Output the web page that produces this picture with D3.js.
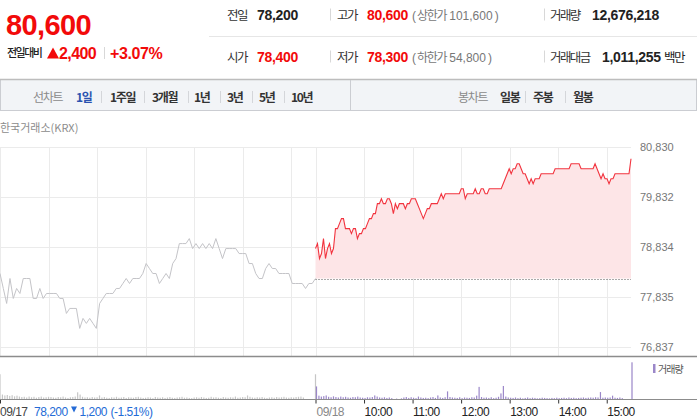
<!DOCTYPE html>
<html>
<head>
<meta charset="utf-8">
<script src="https://cdn.jsdelivr.net/npm/d3@7"></script>
<style>
  body { margin: 0; background: #fff; }
  svg { display: block; font-family: "Liberation Sans", "Noto Sans CJK KR", sans-serif; }
  .kr { font-family: "Noto Sans CJK KR", sans-serif; }
</style>
</head>
<body>
<div id="chart"></div>
<script>
// ---- data ----
var currentPrice = "80,600";
var dayChange = ["2,400", "+3.07%"];
var infoLabels = ["전일", "고가", "거래량", "시가", "저가", "거래대금"];
var infoValues = ["78,200", "80,600", "12,676,218", "78,400", "78,300", "1,011,255"];
var limitLabels = ["상한가", "하한가"];
var limitValues = ["101,600", "54,800"];
var lineTabs = ["1일", "1주일", "3개월", "1년", "3년", "5년", "10년"];
var candleTabs = ["일봉", "주봉", "월봉"];

var prevClose = 78200;
var priceTicks = [80830, 79832, 78834, 77835, 76837];
var dayLabels = ["09/17", "09/18"];
var hourLabels = ["10:00", "11:00", "12:00", "13:00", "14:00", "15:00"];
var prevSummary = ["78,200", "1,200", "(-1.51%)"];

// 09/17 price, 09:00 -> 15:30
var prevPrices = [
  78300, 78000, 77700, 78200, 77800, 78000, 77900, 78200, 78200, 78200,
  77800, 77800, 78000, 77800, 77900, 77900, 77900, 77900, 77800, 77800,
  77500, 77600, 77600, 77600, 77200, 77400, 77300, 77400, 77300, 77200,
  77700, 77800, 77900, 77900, 77900, 78000, 78000, 78100, 78200, 78100,
  78200, 78200, 78200, 78300, 78500, 78400, 78300, 78300, 78100, 78200,
  78300, 78200, 78500, 78600, 78900, 78900, 78900, 79000, 78800, 78900,
  78800, 78900, 78800, 78900, 78800, 79000, 78800, 78600, 78800, 78800,
  78800, 78800, 78700, 78700, 78700, 78500, 78500, 78300, 78200, 78200,
  78400, 78500, 78400, 78400, 78300, 78300, 78300, 78300, 78100, 78100,
  78100, 78100, 78000, 78100, 78100, 78200
];

// 09/18 price, 09:00 -> 15:30
var todayPrices = [
  78800, 78900, 78600, 78700, 79000, 78600, 78800, 78900, 78700, 78800,
  79200, 79200, 79300, 79400, 79400, 79200,
  79200, 79200, 79100, 79200, 79200, 79000, 79100, 79100, 79200, 79200,
  79300, 79400, 79400, 79500, 79500, 79700, 79700, 79800, 79700, 79700,
  79800, 79800, 79700, 79500, 79700, 79600, 79700, 79700, 79700, 79600,
  79700, 79700, 79800, 79800, 79800, 79700, 79600, 79500, 79400, 79500,
  79600, 79600, 79700, 79700, 79700, 79700, 79800, 79900, 79800, 79900,
  79900, 79900, 79900, 79900, 79900, 79900, 79900, 80000, 80000, 79800,
  79900, 79900, 79900, 79900, 80000, 79900, 79900, 80000, 80000, 79900,
  79900, 80000, 80000, 80000, 80000, 80000, 80000, 80000, 80100, 80200,
  80300, 80400, 80300, 80400, 80400, 80500, 80500, 80400, 80300, 80300,
  80200, 80100, 80200, 80100, 80200, 80200, 80200, 80300, 80300, 80300,
  80300, 80300, 80300, 80300, 80400, 80400, 80400, 80400, 80400, 80400,
  80400, 80400, 80500, 80500, 80500, 80500, 80500, 80400, 80400, 80400,
  80400, 80400, 80400, 80400, 80500, 80400, 80300, 80200, 80300, 80200,
  80200, 80100, 80200, 80200, 80300, 80300, 80300, 80300, 80300, 80300,
  80300, 80300, 80600
];

// volume (thousand shares), one bar per 3 minutes, 09:00 -> 15:30
var prevVolumes = [
  1120, 220, 180, 200, 160, 190, 140, 170, 130, 110,
  120, 90, 130, 100, 120, 80, 110, 130, 90, 100,
  120, 110, 90, 80, 110, 100, 130, 90, 70, 100,
  110, 130, 320, 220, 120, 90, 100, 80, 110, 90,
  100, 180, 90, 110, 80, 70, 100, 90, 120, 80,
  90, 110, 70, 100, 90, 80, 110, 120, 90, 70,
  80, 100, 90, 60, 110, 90, 80, 100, 70, 90,
  110, 80, 70, 90, 100, 120, 80, 90, 70, 60,
  90, 100, 80, 110, 90, 70, 80, 120, 90, 100,
  80, 70, 110, 90, 80, 100, 90, 130, 80, 90,
  110, 100, 180, 120, 90, 80, 100, 90, 110, 80,
  70, 90, 100, 80, 110, 90, 100, 120, 90, 80,
  100, 90, 110, 120, 130, 90, 0, 0, 0, 0,
  1120
];
var todayVolumes = [
  580, 170, 130, 150, 180, 120, 100, 140, 110, 90,
  130, 100, 120, 90, 80, 110, 100, 130, 90, 80,
  70, 100, 90, 110, 180, 130, 90, 80, 100, 70,
  90, 60, 0, 40, 0, 50, 90, 110, 70, 100,
  80, 60, 130, 90, 70, 80, 60, 90, 110, 70,
  180, 90, 70, 100, 360, 110, 90, 80, 70, 100,
  60, 90, 80, 70, 100, 90, 170, 560, 110, 80,
  90, 70, 100, 60, 80, 120, 270, 600, 130, 90,
  80, 70, 90, 60, 80, 50, 70, 90, 60, 80,
  70, 50, 60, 80, 70, 60, 50, 70, 60, 80,
  60, 70, 80, 60, 90, 70, 80, 60, 70, 80,
  90, 70, 80, 90, 80, 100, 90, 330, 80, 90,
  80, 90, 170, 80, 70, 90, 60, 0, 0, 0,
  1650
];

// ---- layout ----
var W = 697, H = 420;
var RED = "#f20a0a", BLUE = "#246bd6";
var plotRight = 631, plotTop = 147.3, plotBottom = 346.5;
var panelLine = 356.5, volBase = 399.5;
var SESSION = 390; // minutes per session

var svg = d3.select("#chart").append("svg")
    .attr("width", W)
    .attr("height", H);

// header - big price
svg.append("text")
    .attr("x", 6).attr("y", 35)
    .attr("font-size", 29).attr("font-weight", "bold")
    .attr("letter-spacing", -0.6)
    .attr("fill", RED)
    .text(currentPrice);

svg.append("text")
    .attr("class", "kr")
    .attr("x", 7).attr("y", 57)
    .attr("font-size", 11).attr("font-weight", 500).attr("letter-spacing", -1.5)
    .attr("fill", "#222")
    .text("전일대비");

var tri = d3.path();
tri.moveTo(47, 58.5); tri.lineTo(53, 47.5); tri.lineTo(59, 58.5); tri.closePath();
svg.append("path").attr("d", tri.toString()).attr("fill", RED);

svg.append("text")
    .attr("x", 59).attr("y", 58.5)
    .attr("font-size", 16).attr("font-weight", "bold").attr("letter-spacing", -0.6)
    .attr("fill", RED)
    .text(dayChange[0]);
svg.append("line")
    .attr("x1", 104.5).attr("x2", 104.5).attr("y1", 47).attr("y2", 59)
    .attr("stroke", "#d8d8d8");
svg.append("text")
    .attr("x", 110).attr("y", 58.5)
    .attr("font-size", 16).attr("font-weight", "bold").attr("letter-spacing", -0.4)
    .attr("fill", RED)
    .text(dayChange[1]);

// header - info table
var labelX = [227, 337, 550], valueX = [257, 367, 592], rowY = [19.5, 61.5];
var valueColor = ["#222", RED, "#222", RED, RED, "#222"];
infoLabels.forEach(function(lab, i) {
  var col = i % 3, row = Math.floor(i / 3);
  svg.append("text")
      .attr("class", "kr")
      .attr("x", labelX[col]).attr("y", rowY[row])
      .attr("font-size", 12.5).attr("letter-spacing", -1.6)
      .attr("fill", "#333")
      .text(lab);
  svg.append("text")
      .attr("x", (i == 5) ? 602 : valueX[col]).attr("y", rowY[row])
      .attr("font-size", 14).attr("font-weight", "bold").attr("letter-spacing", -0.3)
      .attr("fill", valueColor[i])
      .text(infoValues[i]);
});
svg.append("text")
    .attr("class", "kr")
    .attr("x", 664).attr("y", rowY[1])
    .attr("font-size", 12.5).attr("letter-spacing", -1.6)
    .attr("fill", "#222")
    .text("백만");

limitLabels.forEach(function(lab, i) {
  var t = svg.append("text")
      .attr("x", 412).attr("y", rowY[i])
      .attr("font-size", 12).attr("fill", "#777");
  t.append("tspan").text("(");
  t.append("tspan").attr("class", "kr").attr("dx", 1).attr("letter-spacing", -1.3).text(lab);
  t.append("tspan").attr("dx", 3).text(limitValues[i]);
  t.append("tspan").attr("dx", 2).text(")");
});

[330.5, 544.5].forEach(function(sx) {
  rowY.forEach(function(ry) {
    svg.append("line")
        .attr("x1", sx).attr("x2", sx).attr("y1", ry - 11).attr("y2", ry + 1)
        .attr("stroke", "#d8d8d8");
  });
});
svg.append("line")
    .attr("x1", 209).attr("x2", W).attr("y1", 36.5).attr("y2", 36.5)
    .attr("stroke", "#e6e6e6");

// tab bar
svg.append("rect")
    .attr("x", 0.5).attr("y", 79.5).attr("width", W - 1).attr("height", 31)
    .attr("fill", "#f2f4f7").attr("stroke", "#cbcdd2");
svg.append("line")
    .attr("x1", 0).attr("x2", W).attr("y1", 79.5).attr("y2", 79.5)
    .attr("stroke", "#bdbdbd").attr("stroke-width", 1.5);
svg.append("line")
    .attr("x1", 350.5).attr("x2", 350.5).attr("y1", 80).attr("y2", 110)
    .attr("stroke", "#cbcdd2");

function tabLabel(txt, tx, color, weight) {
  svg.append("text")
      .attr("class", "kr")
      .attr("x", tx).attr("y", 102)
      .attr("font-size", 12).attr("font-weight", weight)
      .attr("letter-spacing", -1.3)
      .attr("fill", color)
      .text(txt);
}
tabLabel("선차트", 33, "#8a8a8a", "normal");
tabLabel("봉차트", 458, "#8a8a8a", "normal");
var lineTabX = [76, 110, 152, 194, 227, 259, 291];
var lineSepX = [101, 144, 188, 220, 252, 284];
lineTabs.forEach(function(t, i) {
  tabLabel(t, lineTabX[i], i == 0 ? "#2a52b0" : "#333", "bold");
});
var candleTabX = [500, 533, 573];
var candleSepX = [525, 565];
candleTabs.forEach(function(t, i) { tabLabel(t, candleTabX[i], "#333", "bold"); });
lineSepX.concat(candleSepX).forEach(function(sx) {
  svg.append("line")
      .attr("x1", sx + 0.5).attr("x2", sx + 0.5).attr("y1", 91).attr("y2", 103)
      .attr("stroke", "#d4d6da");
});

svg.append("text")
    .attr("class", "kr")
    .attr("x", 0).attr("y", 131.5)
    .attr("font-size", 11)
    .attr("fill", "#8c8c8c")
    .text("한국거래소(KRX)");

// ---- scales ----
var x = d3.scaleLinear().domain([0, 2 * SESSION]).range([0, plotRight]);
var y = d3.scaleLinear().domain([priceTicks[4], priceTicks[0]]).range([plotBottom, plotTop]);
var yv = d3.scaleLinear().domain([0, d3.max(todayVolumes)]).range([volBase, 362.3]);

function toSeries(prices, offset) {
  return prices.map(function(p, i) {
    return {t: offset + i * SESSION / (prices.length - 1), p: p};
  });
}
var prevData = toSeries(prevPrices, 0);
var todayData = toSeries(todayPrices, SESSION);

var hourMinutes = d3.range(0, SESSION, 60).concat(d3.range(SESSION, 2 * SESSION, 60));

// grid
var grid = svg.append("g").attr("class", "grid");
grid.selectAll(".hg").data(priceTicks).enter().append("line")
    .attr("x1", 0).attr("x2", plotRight)
    .attr("y1", function(d) { return Math.round(y(d)) + 0.5; })
    .attr("y2", function(d) { return Math.round(y(d)) + 0.5; })
    .attr("stroke", "#ebebeb");
grid.selectAll(".vg").data(hourMinutes).enter().append("line")
    .attr("x1", function(d) { return Math.round(x(d)) + 0.5; })
    .attr("x2", function(d) { return Math.round(x(d)) + 0.5; })
    .attr("y1", plotTop).attr("y2", panelLine)
    .attr("stroke", "#ebebeb");

// right price axis
svg.append("g")
    .attr("transform", "translate(640,0)")
    .call(d3.axisRight(y).tickValues(priceTicks).tickFormat(d3.format(",")).tickSize(0).tickPadding(0))
    .call(function(g) { g.select(".domain").remove(); })
    .selectAll("text")
    .attr("font-family", "Liberation Sans, sans-serif")
    .attr("font-size", 11)
    .attr("fill", "#777");

// today's area above previous close
var area = d3.area()
    .x(function(d) { return x(d.t); })
    .y0(y(prevClose))
    .y1(function(d) { return y(d.p); });
svg.append("path")
    .datum(todayData)
    .attr("fill", "#fde5e7")
    .attr("d", area);

svg.append("line")
    .attr("x1", x(SESSION)).attr("x2", x(2 * SESSION))
    .attr("y1", Math.round(y(prevClose)) + 0.5).attr("y2", Math.round(y(prevClose)) + 0.5)
    .attr("stroke", "#555").attr("stroke-dasharray", "1,2");

var line = d3.line()
    .x(function(d) { return x(d.t); })
    .y(function(d) { return y(d.p); });

svg.append("path")
    .datum(prevData)
    .attr("fill", "none")
    .attr("stroke", "#c4c4c8")
    .attr("stroke-width", 1)
    .attr("d", line);

svg.append("path")
    .datum(todayData)
    .attr("fill", "none")
    .attr("stroke", "#f2343f")
    .attr("stroke-width", 1.1)
    .attr("d", line);

// ---- volume panel ----
svg.append("line")
    .attr("x1", 0).attr("x2", W).attr("y1", panelLine).attr("y2", panelLine)
    .attr("stroke", "#8c8c8c").attr("stroke-width", 1.5);

function volBars(vols, offset, color, shift) {
  svg.append("g").selectAll("rect")
      .data(vols.map(function(v, i) { return {t: offset + i * 3, v: v}; }))
      .enter().append("rect")
      .attr("x", function(d) { return x(d.t) + shift; })
      .attr("width", 1.2)
      .attr("y", function(d) { return yv(d.v); })
      .attr("height", function(d) { return volBase - yv(d.v); })
      .attr("fill", color);
}
volBars(prevVolumes, 0, "#c6c6c6", -0.6);
volBars(todayVolumes, SESSION, "#9b87c9", 0.4);

// legend
svg.append("rect")
    .attr("x", 653).attr("y", 364).attr("width", 2.5).attr("height", 9)
    .attr("fill", "#9b87c9");
svg.append("text")
    .attr("class", "kr")
    .attr("x", 658).attr("y", 373)
    .attr("font-size", 10).attr("letter-spacing", -1)
    .attr("fill", "#555")
    .text("거래량");

// time axis
var tickMinutes = [0, SESSION].concat(d3.range(SESSION + 60, 2 * SESSION, 60));
var xAxis = svg.append("g")
    .attr("transform", "translate(0," + volBase + ")")
    .call(d3.axisBottom(x).tickValues(tickMinutes).tickSize(4).tickFormat(""));
xAxis.select(".domain").remove();
xAxis.selectAll(".tick line").attr("stroke", "#333");
svg.append("line")
    .attr("x1", 0).attr("x2", W).attr("y1", volBase).attr("y2", volBase)
    .attr("stroke", "#8c8c8c");

var labelY = 416;
function axisText(txt, tx, color) {
  svg.append("text")
      .attr("x", tx).attr("y", labelY)
      .attr("font-size", 12).attr("letter-spacing", -0.5)
      .attr("fill", color)
      .text(txt);
}
axisText(dayLabels[0], x(0), "#444");
axisText(prevSummary[0], 34, BLUE);
var dn = d3.path();
dn.moveTo(71, 406.5); dn.lineTo(77, 406.5); dn.lineTo(74, 412.5); dn.closePath();
svg.append("path").attr("d", dn.toString()).attr("fill", BLUE);
axisText(prevSummary[1], 79.5, BLUE);
axisText(prevSummary[2], 110.5, BLUE);

axisText(dayLabels[1], x(SESSION) + 1, "#888");
hourLabels.forEach(function(h, i) {
  axisText(h, x(SESSION + 60 * (i + 1)) + 0.5, "#222");
});
</script>
</body>
</html>
